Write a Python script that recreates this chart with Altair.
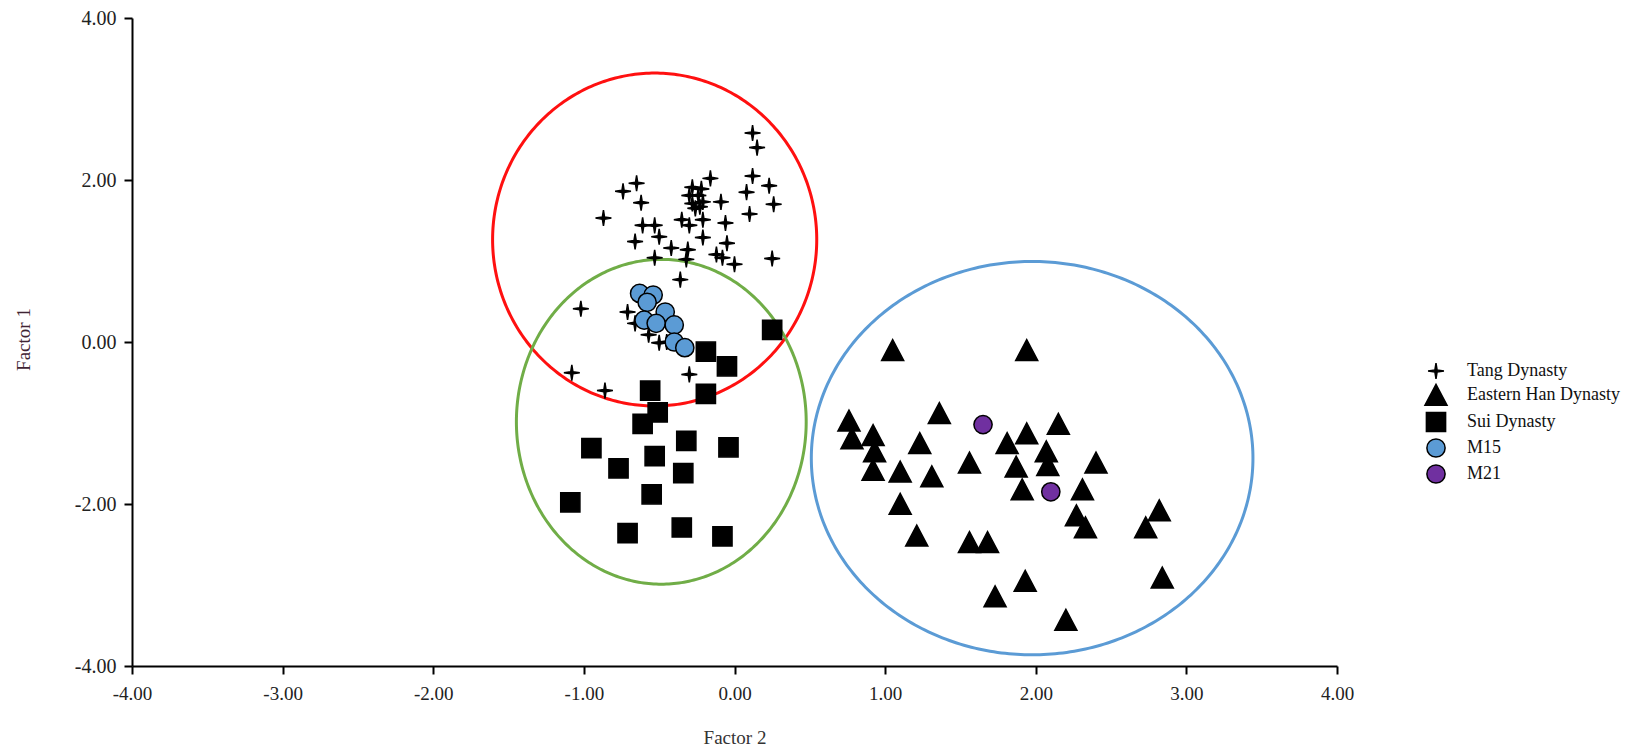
import altair as alt
import numpy as np
import pandas as pd

# ---------------- data ----------------
GROUPS = ["Tang Dynasty", "Eastern Han Dynasty", "Sui Dynasty", "M15", "M21"]

TANG_X = [0.12, 0.15, 0.12, 0.23, 0.08, 0.26, 0.10, 0.25, -0.16, -0.09, -0.06, -0.05,
          -0.12, -0.08, 0.00, -0.28, -0.22, -0.30, -0.24, -0.21, -0.28, -0.23, -0.26,
          -0.35, -0.30, -0.21, -0.21, -0.31, -0.32, -0.42, -0.65, -0.74, -0.62, -0.87,
          -0.61, -0.53, -0.50, -0.66, -0.53, -0.36, -1.02, -0.71, -0.57, -0.50, -0.66,
          -1.08, -0.86, -0.30, -0.45]
TANG_Y = [2.58, 2.40, 2.05, 1.93, 1.85, 1.70, 1.58, 1.03, 2.02, 1.73, 1.47, 1.22,
          1.08, 1.04, 0.96, 1.91, 1.89, 1.81, 1.81, 1.73, 1.71, 1.67, 1.65,
          1.51, 1.44, 1.51, 1.29, 1.14, 1.02, 1.16, 1.96, 1.86, 1.72, 1.53,
          1.44, 1.44, 1.30, 1.24, 1.04, 0.77, 0.41, 0.37, 0.09, -0.01, 0.23,
          -0.38, -0.60, -0.40, 0.00]

HAN_X = [1.05, 1.94, 0.76, 0.78, 0.92, 0.93, 0.92, 1.36, 1.23, 1.10, 1.31, 1.10,
         1.21, 1.56, 1.56, 1.68, 1.73, 1.93, 1.81, 1.94, 2.15, 1.87, 2.07, 2.08,
         2.40, 1.91, 2.31, 2.27, 2.33, 2.20, 2.82, 2.73, 2.84]
HAN_Y = [-0.10, -0.10, -0.97, -1.19, -1.15, -1.35, -1.58, -0.88, -1.25, -1.60, -1.66, -2.00,
         -2.39, -1.49, -2.47, -2.47, -3.14, -2.95, -1.25, -1.13, -1.01, -1.54, -1.35, -1.52,
         -1.49, -1.82, -1.82, -2.14, -2.29, -3.43, -2.08, -2.29, -2.91]

SUI_X = [0.25, -0.19, -0.05, -0.19, -0.56, -0.51, -0.61, -0.95, -0.32, -0.04, -0.53,
         -0.77, -0.34, -0.55, -1.09, -0.35, -0.71, -0.08]
SUI_Y = [0.15, -0.12, -0.30, -0.64, -0.60, -0.87, -1.01, -1.31, -1.22, -1.30, -1.41,
         -1.56, -1.62, -1.88, -1.98, -2.29, -2.36, -2.40]

M15_X = [-0.63, -0.54, -0.58, -0.46, -0.60, -0.52, -0.40, -0.40, -0.33]
M15_Y = [0.60, 0.58, 0.49, 0.37, 0.27, 0.23, 0.21, 0.00, -0.07]

M21_X = [1.65, 2.10]
M21_Y = [-1.02, -1.85]

# ellipses (centre, semi-axes) in data units
ELL_NAME = ["red", "green", "blue"]
ELL_COLOR = ["#ff1010", "#70ad47", "#5b9bd5"]
ELL_CX = [-0.53, -0.486, 1.976]
ELL_CY = [1.265, -0.985, -1.434]
ELL_RX = [1.076, 0.962, 1.466]
ELL_RY = [2.055, 2.005, 2.428]

X_TICKS = [-4, -3, -2, -1, 0, 1, 2, 3, 4]
Y_TICKS = [-4, -2, 0, 2, 4]

# ---------------- tables ----------------
rows = []
for g, xs, ys in zip(GROUPS, [TANG_X, HAN_X, SUI_X, M15_X, M21_X],
                     [TANG_Y, HAN_Y, SUI_Y, M15_Y, M21_Y]):
    for xv, yv in zip(xs, ys):
        rows.append({"x": xv, "y": yv, "group": g})
pts = pd.DataFrame(rows)

t = np.linspace(0, 2 * np.pi, 361)
ell_frames = []
for n, cx, cy, rx, ry in zip(ELL_NAME, ELL_CX, ELL_CY, ELL_RX, ELL_RY):
    ell_frames.append(pd.DataFrame({"ell": n, "k": np.arange(len(t)),
                                    "x": cx + rx * np.cos(t), "y": cy + ry * np.sin(t)}))
ell = pd.concat(ell_frames, ignore_index=True)

# ---------------- styling ----------------
FONT = "Liberation Serif"
STAR = "M0,-0.66L0.09,-0.09L0.66,0L0.09,0.09L0,0.66L-0.09,0.09L-0.66,0L-0.09,-0.09Z"
TRI = "M0,-0.88L0.92,0.86L-0.92,0.86Z"
SQ = "M-0.8,-0.8L0.8,-0.8L0.8,0.8L-0.8,0.8Z"
CIRC = "M0.76,0A0.76,0.76,0,1,1,-0.76,0A0.76,0.76,0,1,1,0.76,0Z"

TOP = 10
W, H = 1205, 648
xscale = alt.Scale(domain=[-4, 4], nice=False, zero=False)
yscale = alt.Scale(domain=[-4, 4], nice=False, zero=False)
LABEL_EXPR = "(datum.value < 0 ? '-' : '') + format(abs(datum.value), '.2f')"

xaxis = alt.Axis(values=X_TICKS, labelExpr=LABEL_EXPR, grid=False, domainColor="black",
                 domainWidth=2, tickColor="black", tickWidth=2, tickSize=8,
                 labelFont=FONT, labelFontSize=19, labelColor="#222222", labelPadding=10,
                 labelFlush=False, title="Factor 2", titleFont=FONT, titleFontSize=19,
                 titleFontWeight="normal", titleColor="#333333", titleX=W / 2, titleY=71,
                 titleBaseline="middle", titleAlign="center")
yaxis = alt.Axis(values=Y_TICKS, labelExpr=LABEL_EXPR, grid=False, domainColor="black",
                 domainWidth=2, tickColor="black", tickWidth=2, tickSize=8,
                 labelFont=FONT, labelFontSize=20, labelColor="#222222", labelPadding=8,
                 labelFlush=False, title="Factor 1", titleFont=FONT, titleFontSize=19,
                 titleFontWeight="normal", titleColor="#3f2433", titleAngle=270,
                 titleX=-109, titleY=H / 2 - 3, titleBaseline="middle", titleAlign="center")

legend = alt.Legend(title=None, orient="none", legendX=1291, legendY=340, padding=0,
                    symbolSize=576, symbolStrokeWidth=1.5, symbolStrokeColor="black",
                    symbolOpacity=1, labelFont=FONT, labelFontSize=18, labelColor="#111111",
                    labelOffset=18, rowPadding=-1.2,
                    labelExpr="(datum.label == 'M15' || datum.label == 'M21') ? '\u00a0' + datum.label : datum.label")

shape_scale = alt.Scale(domain=GROUPS, range=[STAR, TRI, SQ, CIRC, CIRC])
fill_scale = alt.Scale(domain=GROUPS, range=["#000000", "#000000", "#000000", "#5b9bd5", "#7030a0"])
stroke_scale = alt.Scale(domain=GROUPS, range=["#000000"] * 5)

layers = []
for n, c in zip(ELL_NAME, ELL_COLOR):
    layers.append(
        alt.Chart(ell).transform_filter(alt.datum.ell == n)
        .mark_line(color=c, strokeWidth=3, clip=False)
        .encode(x=alt.X("x:Q", scale=xscale, axis=xaxis),
                y=alt.Y("y:Q", scale=yscale, axis=yaxis),
                order=alt.Order("k:Q"))
    )

points = alt.Chart(pts).mark_point(filled=True, size=576, strokeWidth=1.5,
                                   opacity=1).encode(
    x=alt.X("x:Q", scale=xscale, axis=xaxis),
    y=alt.Y("y:Q", scale=yscale, axis=yaxis),
    shape=alt.Shape("group:N", scale=shape_scale, legend=legend),
    fill=alt.Fill("group:N", scale=fill_scale, legend=legend),
    stroke=alt.Stroke("group:N", scale=stroke_scale, legend=legend),
)
layers.append(points)

chart = alt.layer(*layers).properties(
    width=W, height=H,
    autosize=alt.AutoSizeParams(type="none"),
    padding={"left": 124, "top": TOP, "right": 284, "bottom": 82},
    background="white",
).configure_view(stroke=None)

chart.save("out.html", embed_options={"renderer": "svg", "actions": False})
